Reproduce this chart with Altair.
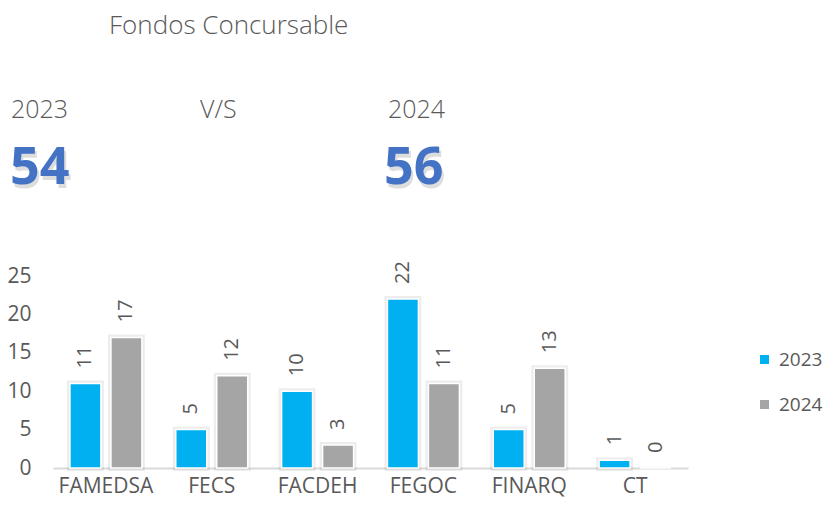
import altair as alt
import pandas as pd

categories = ["FAMEDSA", "FECS", "FACDEH", "FEGOC", "FINARQ", "CT"]
values_2023 = [11, 5, 10, 22, 5, 1]
values_2024 = [17, 12, 3, 11, 13, 0]
years = ["2023", "2024"]
colors = ["#00B0F0", "#A5A5A5"]
y_ticks = [0, 5, 10, 15, 20, 25]
title_text = "Fondos Concursable"
vs_text = "V/S"

rows = []
for c, a, b in zip(categories, values_2023, values_2024):
    rows.append({"cat": c, "year": years[0], "value": a})
    rows.append({"cat": c, "year": years[1], "value": b})
df = pd.DataFrame(rows)

FONT = "Open Sans"
GRAY = "#595959"
BLUE = "#4472C4"

x = alt.X("cat:N", sort=categories,
          scale=alt.Scale(paddingInner=0.32, paddingOuter=0.16),
          axis=alt.Axis(title=None, labelAngle=0, labelFontSize=21, labelColor=GRAY,
                        labelFont=FONT, ticks=False, domainColor="#D9D9D9",
                        domainWidth=2, labelPadding=7))
y = alt.Y("value:Q", scale=alt.Scale(domain=[0, 25], nice=False),
          axis=alt.Axis(title=None, values=y_ticks, grid=False, ticks=False,
                        domain=False, labelFontSize=21, labelColor=GRAY,
                        labelPadding=22, labelFont=FONT))
xoff = alt.XOffset("year:N", sort=years, scale=alt.Scale(paddingInner=0.244))
color = alt.Color("year:N", scale=alt.Scale(domain=years, range=colors),
                  legend=alt.Legend(title=None, orient="none", legendX=702, legendY=74,
                                    padding=0,
                                    symbolType="square", symbolSize=81,
                                    labelFontSize=19, labelColor=GRAY, labelFont=FONT,
                                    rowPadding=25, labelOffset=5,
                                    symbolStrokeWidth=0))

base = alt.Chart(df)

shadow = base.transform_filter(alt.datum.value > 0).mark_bar(
    fillOpacity=0, stroke="#000", strokeOpacity=0.07, strokeWidth=6).encode(
    x=x, y=y, xOffset=xoff)
bars = base.mark_bar(stroke="white", strokeWidth=1.5).encode(
    x=x, y=y, xOffset=xoff, color=color)
labels = base.mark_text(angle=270, align="left", baseline="middle", dx=15,
                        fontSize=20, color=GRAY, font=FONT).encode(
    x=x, y=y, xOffset=xoff, text="value:Q")

def header(text, px, py, size, col=GRAY, weight="normal"):
    return alt.Chart(pd.DataFrame({"t": [text]})).mark_text(
        align="left", baseline="middle", fontSize=size, color=col,
        font=FONT, fontWeight=weight).encode(
        text="t:N", x=alt.value(px), y=alt.value(py))

def total(year, px, py):
    agg = base.transform_filter(alt.datum.year == year).transform_aggregate(
        total="sum(value)")
    sh = agg.mark_text(align="left", baseline="middle", fontSize=52, color="#000",
                       opacity=0.13, font=FONT, fontWeight="bold", dx=2, dy=4).encode(
        text="total:Q", x=alt.value(px), y=alt.value(py))
    tx = agg.mark_text(align="left", baseline="middle", fontSize=52, color=BLUE,
                       font=FONT, fontWeight="bold").encode(
        text="total:Q", x=alt.value(px), y=alt.value(py))
    return sh + tx

chart = alt.layer(
    shadow, bars, labels,
    header(title_text, 56, -250, 26, weight=300),
    header(years[0], -42, -166, 25, weight=300),
    header(vs_text, 147, -166, 25, weight=300),
    header(years[1], 335, -166, 25, weight=300),
    total(years[0], -43, -108),
    total(years[1], 331, -108),
).properties(
    width=635, height=192,
    autosize=alt.AutoSizeParams(type="none"),
    padding={"left": 45, "top": 268, "right": 137, "bottom": 34},
).configure_view(stroke=None)

chart.save("out.html", embed_options={"renderer": "svg", "actions": False})
